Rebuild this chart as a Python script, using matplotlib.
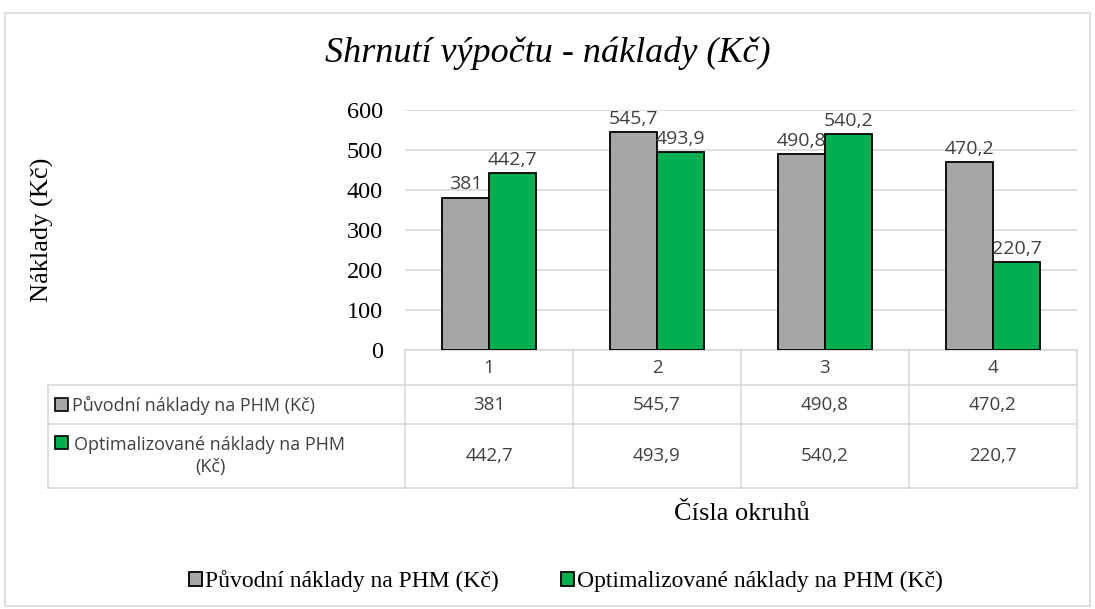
import matplotlib.pyplot as plt
from matplotlib.patches import Rectangle
from matplotlib.transforms import blended_transform_factory

categories = ["1", "2", "3", "4"]
puvodni = [381, 545.7, 490.8, 470.2]
optimal = [442.7, 493.9, 540.2, 220.7]
series_names = ["Původní náklady na PHM (Kč)", "Optimalizované náklady na PHM (Kč)"]
row_names = ["Původní náklady na PHM (Kč)", "Optimalizované náklady na PHM\n(Kč)"]
colors = ["#a6a6a6", "#00b050"]

W, H = 1095, 609
fig = plt.figure(figsize=(W / 100, H / 100), dpi=100)

serif = "Liberation Serif"
sans = "Open Sans"
txt = "#404040"
grid = "#d9d9d9"


def fx(px):
    return px / W


def fy(py):
    return 1 - py / H


# outer chart frame
fig.patches.append(Rectangle((fx(5), fy(606)), fx(1085), 593 / H, transform=fig.transFigure,
                             fill=False, edgecolor="#d9d9d9", lw=1.2))

ax = fig.add_axes([fx(405), fy(350), fx(1077) - fx(405), fy(110) - fy(350)])
ax.set_xlim(0, len(categories))
ax.set_ylim(0, 600)
ax.set_yticks(range(0, 601, 100))
ax.set_yticklabels([str(v) for v in range(0, 601, 100)], fontfamily=serif, fontsize=17.5, color="black")
ax.tick_params(axis="y", length=0, pad=16)
ax.set_xticks([])
for s in ax.spines.values():
    s.set_visible(False)
ax.grid(axis="y", color=grid, lw=1.2)
ax.set_axisbelow(True)


def fmt(v):
    return ("%g" % v).replace(".", ",")


bw = 0.28
x = [i + 0.5 for i in range(len(categories))]
for k, (vals, c) in enumerate(zip([puvodni, optimal], colors)):
    pos = [xi + (k - 0.5) * bw for xi in x]
    ax.bar(pos, vals, width=bw, color=c, edgecolor="black", lw=1.3, label=series_names[k], zorder=3)
    for p, v in zip(pos, vals):
        ax.annotate(fmt(v), (p, v), xytext=(0, 3), textcoords="offset points", ha="center", va="bottom",
                    fontfamily=sans, fontsize=14, color=txt, zorder=4)

# data table under the axis
tr = blended_transform_factory(ax.transData, fig.transFigure)
left = fx(48)
ax.add_line(plt.Line2D([0, 4], [fy(350), fy(350)], transform=tr, color=grid, lw=1.2, clip_on=False))
for yy in [385, 424, 488]:
    fig.add_artist(plt.Line2D([left, fx(1077)], [fy(yy), fy(yy)], transform=fig.transFigure, color=grid, lw=1.2))
for i in range(len(categories) + 1):
    ax.add_line(plt.Line2D([i, i], [fy(350), fy(488)], transform=tr, color=grid, lw=1.2, clip_on=False))
fig.add_artist(plt.Line2D([left, left], [fy(385), fy(488)], transform=fig.transFigure, color=grid, lw=1.2))

for xi, c in zip(x, categories):
    ax.text(xi, fy(368), c, transform=tr, ha="center", va="center", fontfamily=sans, fontsize=13.5, color=txt)
row_mid = [fy(405), fy(456)]
for r, vals in enumerate([puvodni, optimal]):
    for xi, v in zip(x, vals):
        ax.text(xi, row_mid[r], fmt(v), transform=tr, ha="center", va="center",
                fontfamily=sans, fontsize=13.5, color=txt)
    fig.patches.append(Rectangle((fx(55), fy(411 if r == 0 else 449)), 13 / W, 13 / H,
                                 transform=fig.transFigure, facecolor=colors[r], edgecolor="black", lw=1.2))
fig.text(fx(72), row_mid[0], row_names[0], ha="left", va="center", fontfamily=sans, fontsize=13, color=txt)
fig.text(fx(210), fy(456), row_names[1], ha="center", va="center", multialignment="center",
         fontfamily=sans, fontsize=13, color=txt, linespacing=1.25)

fig.text(fx(548), fy(53), "Shrnutí výpočtu - náklady (Kč)", ha="center", va="center",
         fontfamily=serif, fontstyle="italic", fontsize=26)
fig.text(fx(42), fy(230), "Náklady (Kč)", rotation=90, ha="center", va="center", fontfamily=serif, fontsize=19)
fig.text(fx(742), fy(514), "Čísla okruhů", ha="center", va="center", fontfamily=serif, fontsize=19)

leg = fig.legend(loc="center", bbox_to_anchor=(fx(566), fy(581)), ncol=2, frameon=False,
                 prop={"family": serif, "size": 17}, handlelength=0.55, handleheight=0.55,
                 handletextpad=0.15, columnspacing=2.6)

fig.savefig("out.png", dpi=100)
